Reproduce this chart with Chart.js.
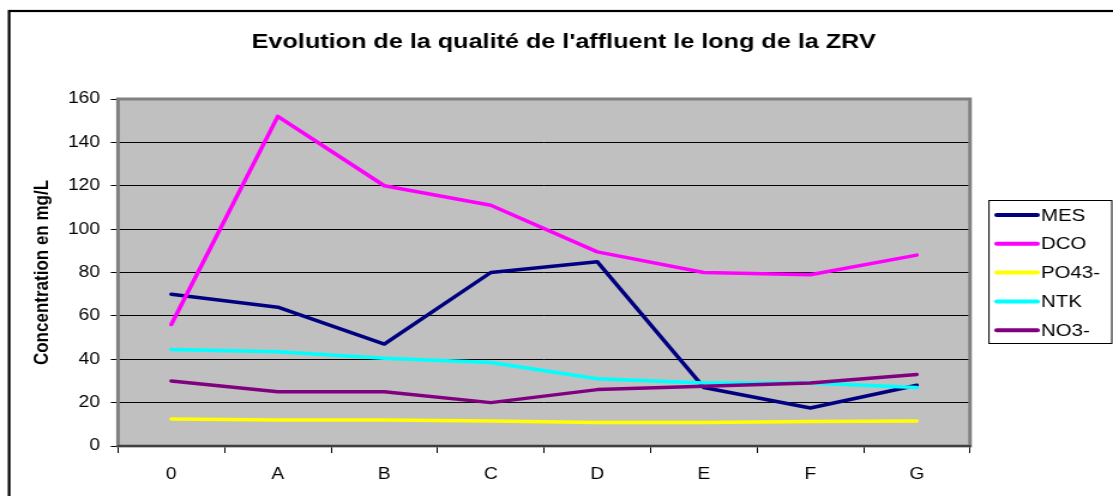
<!DOCTYPE html>
<html lang="fr">
<head>
<meta charset="UTF-8">
<title>Evolution de la qualité de l'affluent</title>
<script src="https://cdn.jsdelivr.net/npm/chart.js"></script>
<style>
    body {
        margin: 0;
        background: #fff;
    }

    /* chart is drawn narrow and stretched sideways, like the original sheet */
    #wrap {
        width: 928px;
        height: 496px;
        transform: scaleX(1.19935);
        transform-origin: 0 0;
    }
</style>
</head>
<body>
<div id="wrap">
    <canvas id="zrv" width="928" height="496"></canvas>
</div>
<script>
    const categories = ['0', 'A', 'B', 'C', 'D', 'E', 'F', 'G'];
    const mes = [70, 64, 47, 80, 85, 27, 17.5, 28];
    const dco = [56, 152, 120, 111, 89.5, 80, 79, 88];
    const po43 = [12.5, 12, 12, 11.5, 10.8, 10.8, 11.3, 11.5];
    const ntk = [44.5, 43.5, 40.5, 38.5, 31, 29, 29, 27];
    const no3 = [30, 25, 25, 20, 26, 27.5, 29, 33];
    const seriesNames = ['MES', 'DCO', 'PO43-', 'NTK', 'NO3-'];
    const seriesColors = ['#000080', '#ff00ff', '#ffff00', '#00ffff', '#800080'];

    const FONT = "'Liberation Sans', Arial, sans-serif";
    const TITLE = "Evolution de la qualité de l'affluent le long de la ZRV";

    const seriesData = [mes, dco, po43, ntk, no3];
    const datasets = seriesData.map((vals, i) => ({
        label: seriesNames[i],
        data: vals,
        borderColor: seriesColors[i],
        backgroundColor: seriesColors[i],
        borderWidth: 3.5,
        pointRadius: 0,
        tension: 0,
        fill: false,
        borderCapStyle: 'round',
        borderJoinStyle: 'round',
        order: seriesData.length - i   // last series ends up on top
    }));

    // grey plot area, frame, title, outer border and legend box
    const sheetDecor = {
        id: 'sheetDecor',
        beforeDraw(chart) {
            const ctx = chart.ctx;
            const a = chart.chartArea;
            ctx.save();
            ctx.fillStyle = '#c0c0c0';
            ctx.fillRect(a.left, a.top, a.right - a.left, a.bottom - a.top);
            ctx.restore();
        },
        afterDraw(chart) {
            const ctx = chart.ctx;
            const a = chart.chartArea;
            ctx.save();

            ctx.strokeStyle = '#808080';
            ctx.lineWidth = 3;
            ctx.strokeRect(a.left, a.top, a.right - a.left, a.bottom - a.top);
            ctx.strokeStyle = '#404040';
            ctx.lineWidth = 2;
            ctx.beginPath();
            ctx.moveTo(a.left - 1, a.bottom);
            ctx.lineTo(a.right + 1, a.bottom);
            ctx.stroke();

            // outer border of the chart object
            ctx.strokeStyle = '#000';
            ctx.lineWidth = 2.2;
            ctx.strokeRect(7.6, 11, chart.width + 20, chart.height + 20);

            // title
            ctx.fillStyle = '#000';
            ctx.font = 'bold 21px ' + FONT;
            ctx.textAlign = 'center';
            ctx.textBaseline = 'alphabetic';
            ctx.fillText(TITLE, 470, 48);

            // legend
            const lx = 824.6, ly = 200, lw = 102.4, lh = 143;
            ctx.fillStyle = '#fff';
            ctx.fillRect(lx, ly, lw, lh);
            ctx.strokeStyle = '#000';
            ctx.lineWidth = 1;
            ctx.strokeRect(lx, ly + 0.5, lw, lh);
            ctx.font = '17px ' + FONT;
            ctx.textAlign = 'left';
            ctx.textBaseline = 'middle';
            chart.data.datasets.forEach((ds, i) => {
                const y = 215 + i * 28.8;
                ctx.strokeStyle = ds.borderColor;
                ctx.lineWidth = 4;
                ctx.lineCap = 'round';
                ctx.beginPath();
                ctx.moveTo(831, y);
                ctx.lineTo(865, y);
                ctx.stroke();
                ctx.fillStyle = '#000';
                ctx.fillText(ds.label, 868, y + 1);
            });
            ctx.restore();
        }
    };

    new Chart(document.getElementById('zrv'), {
        type: 'line',
        data: { labels: categories, datasets: datasets },
        options: {
            responsive: false,
            maintainAspectRatio: false,
            animation: false,
            devicePixelRatio: 1,
            layout: { padding: { left: 0, top: 99, right: 119.2, bottom: 0 } },
            plugins: {
                legend: { display: false },
                title: { display: false },
                tooltip: { enabled: false }
            },
            scales: {
                x: {
                    offset: true,
                    afterFit: s => { s.height = 50; },
                    border: { display: false },
                    grid: {
                        offset: true,
                        drawOnChartArea: false,
                        drawTicks: true,
                        tickLength: 7,
                        color: '#000',
                        lineWidth: 1
                    },
                    ticks: {
                        color: '#000',
                        padding: 12,
                        maxRotation: 0,
                        font: { family: FONT, size: 16 }
                    }
                },
                y: {
                    min: 0,
                    max: 160,
                    afterFit: s => { s.width = 98.4; },
                    border: { display: false },
                    grid: {
                        color: '#000',
                        lineWidth: 1,
                        tickLength: 6
                    },
                    ticks: {
                        stepSize: 20,
                        color: '#000',
                        padding: 9,
                        font: { family: FONT, size: 16 }
                    },
                    title: {
                        display: true,
                        text: 'Concentration en mg/L',
                        color: '#000',
                        padding: { top: 25, bottom: 0 },
                        font: { family: FONT, size: 17, weight: 'bold' }
                    }
                }
            }
        },
        plugins: [sheetDecor]
    });
</script>
</body>
</html>
